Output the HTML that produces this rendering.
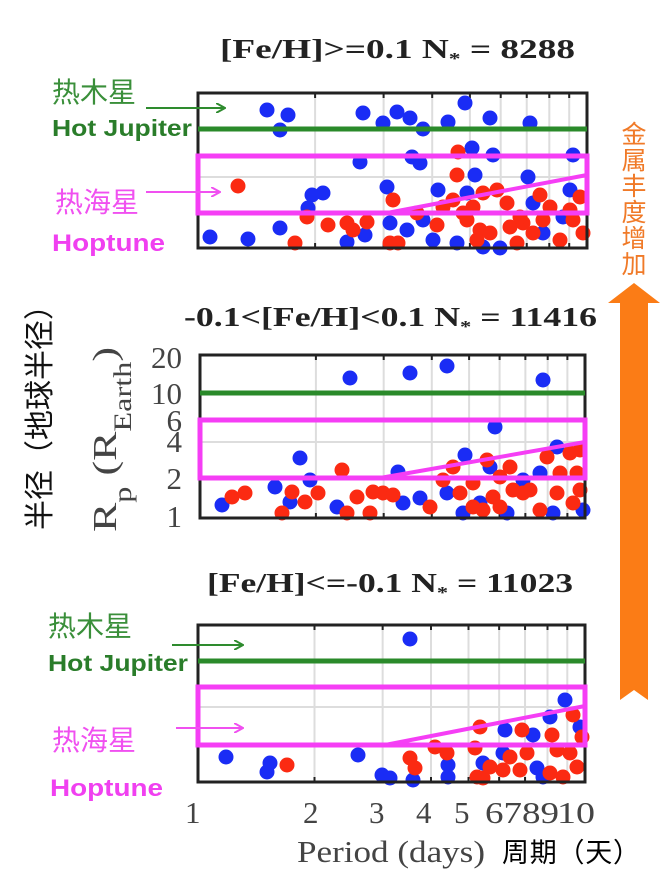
<!DOCTYPE html>
<html><head><meta charset="utf-8"><style>
html,body{margin:0;padding:0;background:#fff;}
svg{display:block;}
.t{font-family:"Liberation Serif",serif;font-weight:bold;font-size:27px;fill:#222;}
.tk{font-family:"Liberation Serif",serif;font-size:31px;fill:#444;}
.cj{font-family:"Liberation Sans","Noto Sans CJK SC",sans-serif;}
</style></head><body>
<svg width="670" height="882" viewBox="0 0 670 882" xmlns="http://www.w3.org/2000/svg">
<defs>
<marker id="ag" markerWidth="10" markerHeight="10" refX="8" refY="5" orient="auto" markerUnits="userSpaceOnUse"><path d="M0,0 L9,5 L0,10" fill="none" stroke="#2e8b2e" stroke-width="2"/></marker>
<marker id="am" markerWidth="10" markerHeight="10" refX="8" refY="5" orient="auto" markerUnits="userSpaceOnUse"><path d="M0,0 L9,5 L0,10" fill="none" stroke="#f050f0" stroke-width="2"/></marker>
</defs>
<g id="panels"></g>
<!-- titles -->
<text class="t" x="220" y="58" textLength="355" lengthAdjust="spacingAndGlyphs">[Fe/H]&gt;=0.1 N<tspan font-size="17" dy="6">*</tspan><tspan dy="-6"> = 8288</tspan></text>
<text class="t" x="184" y="326" textLength="413" lengthAdjust="spacingAndGlyphs">-0.1&lt;[Fe/H]&lt;0.1 N<tspan font-size="17" dy="6">*</tspan><tspan dy="-6"> = 11416</tspan></text>
<text class="t" x="207" y="592" textLength="366" lengthAdjust="spacingAndGlyphs">[Fe/H]&lt;=-0.1 N<tspan font-size="17" dy="6">*</tspan><tspan dy="-6"> = 11023</tspan></text>
<!-- left labels top -->
<text class="cj" x="52" y="102" font-size="28" fill="#3a8f3a">热木星</text>
<line x1="146" y1="108" x2="224" y2="108" stroke="#2e8b2e" stroke-width="2" marker-end="url(#ag)"/>
<text x="52" y="136" font-family="Liberation Sans,sans-serif" font-weight="bold" font-size="23" fill="#2a7d2a" textLength="140" lengthAdjust="spacingAndGlyphs">Hot Jupiter</text>
<text class="cj" x="55" y="212" font-size="28" fill="#f050f0">热海星</text>
<line x1="146" y1="192" x2="219" y2="192" stroke="#f050f0" stroke-width="2" marker-end="url(#am)"/>
<text x="52" y="251" font-family="Liberation Sans,sans-serif" font-weight="bold" font-size="24" fill="#f040f0" textLength="113" lengthAdjust="spacingAndGlyphs">Hoptune</text>
<!-- left labels bottom -->
<text class="cj" x="48" y="636" font-size="28" fill="#3a8f3a">热木星</text>
<line x1="172" y1="645" x2="242" y2="645" stroke="#2e8b2e" stroke-width="2" marker-end="url(#ag)"/>
<text x="48" y="671" font-family="Liberation Sans,sans-serif" font-weight="bold" font-size="23" fill="#2a7d2a" textLength="140" lengthAdjust="spacingAndGlyphs">Hot Jupiter</text>
<text class="cj" x="52" y="750" font-size="28" fill="#f050f0">热海星</text>
<line x1="176" y1="728" x2="242" y2="728" stroke="#f050f0" stroke-width="2" marker-end="url(#am)"/>
<text x="50" y="796" font-family="Liberation Sans,sans-serif" font-weight="bold" font-size="24" fill="#f040f0" textLength="113" lengthAdjust="spacingAndGlyphs">Hoptune</text>
<!-- vertical chinese label -->
<text class="cj" transform="translate(50,410) rotate(-90)" text-anchor="middle" font-size="30" fill="#111">半径（地球半径）</text>
<!-- Rp label -->
<text transform="translate(116,532) rotate(-90)" font-family="Liberation Serif,serif" font-size="34" fill="#444" textLength="185" lengthAdjust="spacingAndGlyphs">R<tspan font-size="25" dy="15">p</tspan><tspan dy="-15"> (R</tspan><tspan font-size="25" dy="15">Earth</tspan><tspan dy="-15">)</tspan></text>
<!-- middle y ticks -->
<g class="tk" text-anchor="end">
<text x="182" y="368">20</text><text x="182" y="404">10</text><text x="182" y="431">6</text>
<text x="182" y="452">4</text><text x="182" y="489">2</text><text x="182" y="527">1</text>
</g>
<!-- x ticks -->
<g class="tk">
<text x="185" y="823">1</text><text x="303" y="823">2</text><text x="369" y="823">3</text>
<text x="416" y="823">4</text><text x="454" y="823">5</text>
<text x="485" y="823" textLength="74" lengthAdjust="spacingAndGlyphs">6789</text><text x="557" y="823" textLength="38" lengthAdjust="spacingAndGlyphs">10</text>
<text x="297" y="862" textLength="188" lengthAdjust="spacingAndGlyphs">Period (days)</text>
</g>
<text class="cj" x="502" y="862" font-size="27" fill="#000" textLength="138">周期（天）</text>
<!-- orange arrow -->
<path d="M620,700 L620,303 L608,303 L634,283 L660,303 L648,303 L648,700 L634,690 Z" fill="#fb7c16"/>
<g class="cj" font-size="25" fill="#f07a28" text-anchor="middle">
<text x="634" y="143">金</text><text x="634" y="169">属</text><text x="634" y="195">丰</text>
<text x="634" y="221">度</text><text x="634" y="247">增</text><text x="634" y="273">加</text>
</g>
</svg>
<script>
var NS="http://www.w3.org/2000/svg";
var G=document.getElementById("panels");
function el(n,a){var e=document.createElementNS(NS,n);for(var k in a)e.setAttribute(k,a[k]);G.appendChild(e);return e;}
function panel(L,R,T,B,gy,hgs,box,ln,blue,red){
  var W=R-L;
  [2,3,4,5,6,7,8,9].forEach(function(v){var x=L+Math.log10(v)*W;
    el("line",{x1:x,y1:T,x2:x,y2:B,stroke:"#ddd","stroke-width":2});
    el("line",{x1:x,y1:T,x2:x,y2:T+5,stroke:"#222","stroke-width":2});
    el("line",{x1:x,y1:B,x2:x,y2:B-5,stroke:"#222","stroke-width":2});});
  hgs.forEach(function(y){el("line",{x1:L,y1:y,x2:R,y2:y,stroke:"#ddd","stroke-width":2});});
  blue.forEach(function(p){el("circle",{cx:p[0],cy:p[1],r:7.5,fill:"#1a2cf5"});});
  red.forEach(function(p){el("circle",{cx:p[0],cy:p[1],r:7.5,fill:"#fb2a12"});});
  el("rect",{x:L,y:T,width:W,height:B-T,fill:"none",stroke:"#222","stroke-width":3});
  el("line",{x1:L,y1:gy,x2:R,y2:gy,stroke:"#2a8a2a","stroke-width":5});
  el("rect",{x:L,y:box[0],width:W,height:box[1]-box[0],fill:"none",stroke:"#f53ef5","stroke-width":5});
  el("line",{x1:ln[0],y1:box[1],x2:R,y2:ln[1],stroke:"#f53ef5","stroke-width":4});
}
panel(198,587,93,248,129,[177],[156,213],[387,175],
[[267,110],[288,115],[280,130],[363,113],[383,123],[397,112],[410,118],[423,129],[448,122],[465,103],[490,118],[530,123],[360,162],[412,157],[420,163],[472,148],[475,175],[493,155],[573,155],[528,177],[387,187],[438,190],[312,195],[323,193],[308,208],[210,237],[248,239],[280,228],[347,242],[365,235],[390,223],[407,230],[423,220],[433,240],[457,243],[467,193],[483,247],[500,248],[543,233],[563,217],[570,190],[533,203]],
[[238,186],[458,152],[457,175],[393,200],[307,217],[328,225],[347,223],[353,230],[367,222],[295,243],[390,243],[398,243],[417,213],[437,225],[453,200],[463,213],[473,207],[483,193],[497,190],[507,203],[510,227],[480,230],[477,240],[490,233],[517,243],[523,223],[540,195],[550,207],[543,220],[560,240],[573,220],[580,197],[583,233],[570,210],[533,233],[520,217],[467,220],[443,207]]);
panel(200,585,355,518,393,[442],[420,478],[380,442],
[[350,378],[410,373],[447,366],[543,380],[495,427],[300,458],[275,487],[290,502],[222,505],[337,507],[398,472],[403,503],[420,498],[465,455],[447,493],[463,513],[480,503],[507,513],[523,480],[540,473],[557,447],[553,513],[583,510],[490,467],[310,480]],
[[232,497],[245,493],[282,513],[292,492],[305,502],[318,493],[342,470],[347,513],[357,497],[370,513],[373,492],[383,493],[393,495],[430,507],[443,480],[453,467],[473,483],[487,460],[500,477],[510,467],[493,497],[513,490],[483,510],[540,510],[547,457],[560,473],[570,453],[577,473],[580,450],[557,493],[573,503],[580,490],[530,490],[460,493],[473,507],[523,493],[500,507]]);
panel(198,585,625,782,661,[707],[687,745],[385,706],
[[410,639],[226,757],[358,755],[270,763],[267,772],[382,775],[390,778],[413,780],[448,765],[448,777],[505,730],[503,753],[483,763],[533,735],[537,768],[550,717],[565,700],[580,727],[543,777]],
[[287,765],[410,758],[415,768],[435,747],[447,753],[480,727],[475,748],[477,777],[490,767],[510,757],[520,770],[522,730],[527,753],[552,735],[557,750],[570,753],[573,715],[582,737],[577,767],[563,777],[550,773],[503,770],[483,778]]);
</script>
</body></html>
